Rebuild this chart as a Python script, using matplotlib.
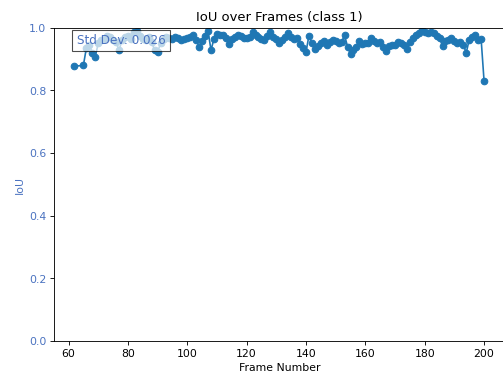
import matplotlib
matplotlib.use("Agg")
import matplotlib.pyplot as plt
import numpy as np

frames = [62] + list(range(65, 201))
iou = [
    0.877,                                                      # 62
    0.880, 0.935, 0.945, 0.920, 0.908,                          # 65-69
    0.950, 0.960, 0.965, 0.975, 0.970, 0.960, 0.955, 0.928, 0.960, 0.970,  # 70-79
    0.975, 0.965, 0.985, 0.990, 0.975, 0.965, 0.960, 0.970, 0.955, 0.928,  # 80-89
    0.922, 0.950, 0.965, 0.970, 0.968, 0.965, 0.972, 0.968, 0.960, 0.965,  # 90-99
    0.968, 0.972, 0.978, 0.962, 0.938, 0.958, 0.975, 0.990, 0.928, 0.965,  # 100-109
    0.980, 0.978, 0.978, 0.967, 0.948, 0.965, 0.972, 0.978, 0.975, 0.968,  # 110-119
    0.967, 0.972, 0.985, 0.978, 0.972, 0.965, 0.962, 0.975, 0.985, 0.972,  # 120-129
    0.965, 0.952, 0.962, 0.970, 0.982, 0.970, 0.965, 0.968, 0.948, 0.935,  # 130-139
    0.922, 0.975, 0.950, 0.932, 0.942, 0.950, 0.958, 0.945, 0.955, 0.962,  # 140-149
    0.958, 0.952, 0.955, 0.976, 0.940, 0.915, 0.930, 0.940, 0.958, 0.948,  # 150-159
    0.950, 0.950, 0.966, 0.958, 0.950, 0.956, 0.940, 0.926, 0.942, 0.946,  # 160-169
    0.945, 0.956, 0.952, 0.945, 0.932, 0.955, 0.968, 0.978, 0.982, 0.992,  # 170-179
    0.985, 0.982, 0.985, 0.984, 0.975, 0.966, 0.942, 0.958, 0.962, 0.968,  # 180-189
    0.958, 0.950, 0.955, 0.945, 0.920, 0.962, 0.970, 0.978, 0.962, 0.965,  # 190-199
    0.830,                                                      # 200
]
std_label = "Std Dev: 0.026"
title = "IoU over Frames (class 1)"
xlabel = "Frame Number"
ylabel = "IoU"

label_color = "#4a72c0"

fig = plt.figure(figsize=(6.4, 4.8), dpi=78.6)
ax = fig.add_axes([54 / 503, 36 / 377, 450.5 / 503, 313 / 377])
ax.plot(frames, iou, marker="o", color="tab:blue")
ax.set_ylim(0, 1.0)
ax.set_title(title, fontsize=12)
ax.set_xlabel(xlabel)
ax.set_ylabel(ylabel, color=label_color)
ax.tick_params(axis="y", labelcolor=label_color)
ax.text(0.05, 0.98, std_label, transform=ax.transAxes, va="top", ha="left",
        fontsize=11, color=label_color,
        bbox=dict(facecolor="white", alpha=0.7, edgecolor="black"))
fig.savefig("out.png", dpi=78.6)
